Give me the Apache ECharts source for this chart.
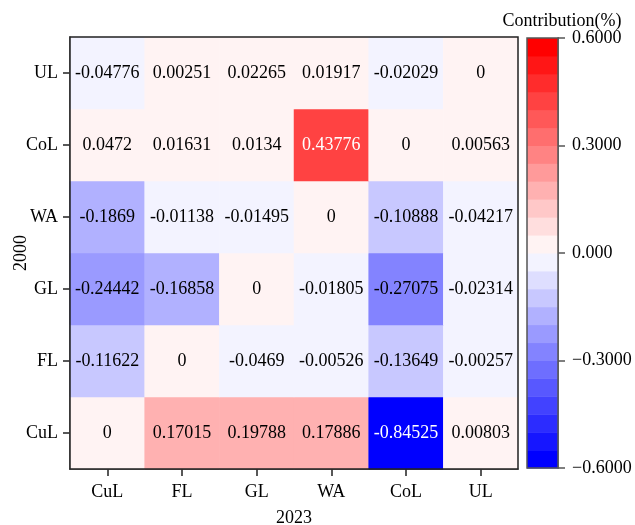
<!DOCTYPE html>
<html>
<head>
<meta charset="utf-8">
<script src="https://cdn.jsdelivr.net/npm/echarts@6/dist/echarts.min.js"></script>
<style>html,body{margin:0;padding:0;background:#fff}#c{width:635px;height:525px}</style>
</head>
<body>
<div id="c"></div>
<script>
// Categories (x = 2023, y = 2000; y listed bottom to top)
var xCats = ['CuL', 'FL', 'GL', 'WA', 'CoL', 'UL'];
var yCats = ['CuL', 'FL', 'GL', 'WA', 'CoL', 'UL'];
// Rows of the matrix, one per 2000 class (columns follow xCats)
var rowCuL = [0, 0.17015, 0.19788, 0.17886, -0.84525, 0.00803];
var rowFL  = [-0.11622, 0, -0.0469, -0.00526, -0.13649, -0.00257];
var rowGL  = [-0.24442, -0.16858, 0, -0.01805, -0.27075, -0.02314];
var rowWA  = [-0.1869, -0.01138, -0.01495, 0, -0.10888, -0.04217];
var rowCoL = [0.0472, 0.01631, 0.0134, 0.43776, 0, 0.00563];
var rowUL  = [-0.04776, 0.00251, 0.02265, 0.01917, -0.02029, 0];
var rows = [rowCuL, rowFL, rowGL, rowWA, rowCoL, rowUL];
// Colour bar
var cbMin = -0.6, cbMax = 0.6, cbStep = 0.05, cbInterval = 0.3;
var cbTickLabels = ['\u22120.6000', '\u22120.3000', '0.000', '0.3000', '0.6000'];
var cbTitle = 'Contribution(%)';

// band shades (0 = nearest to zero)
var shades = [243, 222, 200, 177, 154, 131, 110, 88, 66, 44, 22, 0];
function bandColor(idx) { // idx 0..23 from bottom
  if (idx < 12) { var s = shades[11 - idx]; return 'rgb(' + s + ',' + s + ',255)'; }
  var t = shades[idx - 12]; return 'rgb(255,' + t + ',' + t + ')';
}
var nb = Math.round((cbMax - cbMin) / cbStep);
var bands = [], pieces = [];
for (var i = 0; i < nb; i++) {
  var lo = +(cbMin + i * cbStep).toFixed(4), hi = +(cbMin + (i + 1) * cbStep).toFixed(4);
  bands.push([0, lo, hi, i]);
  var p = { color: bandColor(i) };
  if (i > 0) p.gte = lo;
  if (i < nb - 1) p.lt = hi;
  pieces.push(p);
}

var heatData = [];
rows.forEach(function (r, yi) {
  r.forEach(function (v, xi) {
    heatData.push({ value: [xi, yi, v], label: { color: Math.abs(v) > 0.3 ? '#ffffff' : '#000000' } });
  });
});

var font = '"Liberation Serif", "Times New Roman", serif';
var chart = echarts.init(document.getElementById('c'));
chart.setOption({
  animation: false,
  textStyle: { fontFamily: font },
  title: {
    text: cbTitle, left: 557, top: 7, textAlign: 'center',
    textStyle: { fontFamily: font, fontSize: 18, fontWeight: 'normal', color: '#000' }
  },
  grid: [
    { left: 70, top: 37, width: 448, height: 432, show: true, z: 5, backgroundColor: 'transparent', borderColor: '#222', borderWidth: 1.5, outerBoundsMode: 'none', containLabel: false },
    { left: 527, top: 38, width: 31, height: 430, show: true, z: 5, backgroundColor: 'transparent', borderColor: '#555', borderWidth: 1.5, outerBoundsMode: 'none', containLabel: false }
  ],
  xAxis: [
    {
      type: 'category', data: xCats, gridIndex: 0,
      name: '2023', nameLocation: 'middle', nameGap: 40, nameMoveOverlap: false,
      nameTextStyle: { fontFamily: font, fontSize: 18, color: '#000' },
      axisLine: { show: true, lineStyle: { color: '#222', width: 1.5 } },
      axisTick: { show: true, alignWithLabel: true, length: 7, lineStyle: { color: '#222', width: 1.5 } },
      axisLabel: { fontFamily: font, fontSize: 18, color: '#000', margin: 14 },
      splitLine: { show: false }
    },
    { type: 'category', data: ['cb'], gridIndex: 1, show: false }
  ],
  yAxis: [
    {
      type: 'category', data: yCats, gridIndex: 0,
      name: '2000', nameLocation: 'middle', nameGap: 40, nameRotate: 90, nameMoveOverlap: false,
      nameTextStyle: { fontFamily: font, fontSize: 18, color: '#000' },
      axisLine: { show: true, lineStyle: { color: '#222', width: 1.5 } },
      axisTick: { show: true, alignWithLabel: true, length: 7, lineStyle: { color: '#222', width: 1.5 } },
      axisLabel: { fontFamily: font, fontSize: 18, color: '#000', margin: 12 },
      splitLine: { show: false }
    },
    {
      type: 'value', gridIndex: 1, position: 'right', min: cbMin, max: cbMax, interval: cbInterval,
      axisLine: { show: true, lineStyle: { color: '#555', width: 1.5 } },
      axisTick: { show: true, length: 7, lineStyle: { color: '#555', width: 1.5 } },
      axisLabel: {
        fontFamily: font, fontSize: 18, color: '#000', margin: 14,
        formatter: function (v, idx) { return cbTickLabels[idx]; }
      },
      splitLine: { show: false }
    }
  ],
  visualMap: {
    type: 'piecewise', show: false, seriesIndex: 0, dimension: 2, pieces: pieces
  },
  series: [
    {
      type: 'heatmap', xAxisIndex: 0, yAxisIndex: 0, data: heatData,
      label: {
        show: true, fontFamily: font, fontSize: 18,
        formatter: function (p) { return String(p.value[2]); }
      },
      emphasis: { disabled: true }
    },
    {
      type: 'custom', xAxisIndex: 1, yAxisIndex: 1, data: bands, silent: true,
      renderItem: function (params, api) {
        var top = api.coord([0, api.value(2)]);
        var bot = api.coord([0, api.value(1)]);
        var w = api.size([1, 0])[0];
        return {
          type: 'rect',
          shape: { x: top[0] - w / 2, y: top[1], width: w, height: bot[1] - top[1] + 0.5 },
          style: { fill: bandColor(api.value(3)) }
        };
      }
    }
  ]
});
</script>
</body>
</html>
